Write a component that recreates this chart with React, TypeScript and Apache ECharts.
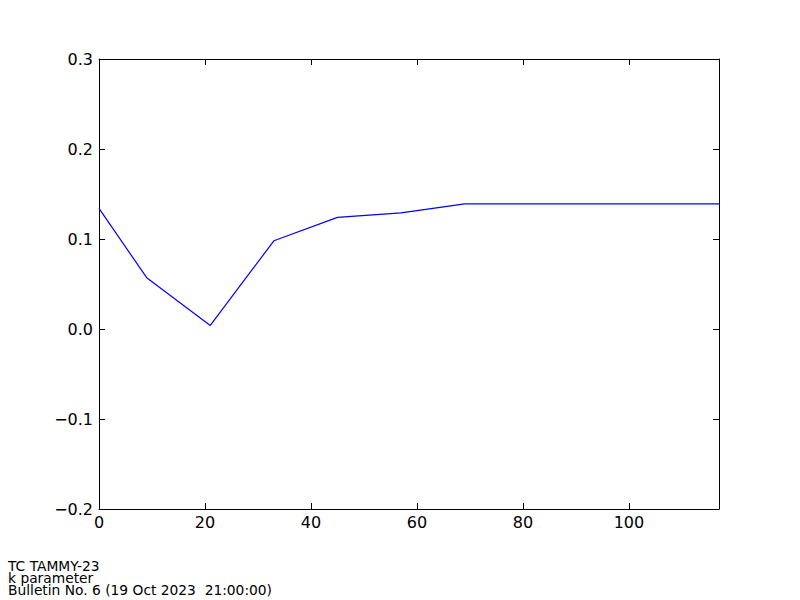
import React, { useEffect, useRef } from "react";
import * as echarts from "echarts";

const hours = [0, 9, 21, 33, 45, 57, 69, 81, 93, 105, 117];
const kValues = [0.134, 0.057, 0.004, 0.098, 0.124, 0.129, 0.139, 0.139, 0.139, 0.139, 0.139];
const footerLines = ["TC TAMMY-23", "k parameter", "Bulletin No. 6 (19 Oct 2023  21:00:00)"];

const FONT = "DejaVu Sans";

export default function App() {
  const ref = useRef<HTMLDivElement>(null);
  useEffect(() => {
    if (!ref.current) return;
    const chart = echarts.init(ref.current, null, { renderer: "svg" });
    const fmt = (v: number) => {
      const s = Math.abs(v).toFixed(1);
      return v < -1e-9 ? "\u2212" + s : s;
    };
    const axisLine = { show: true, onZero: false, lineStyle: { color: "#000", width: 1 } };
    const tick = { show: true, inside: true, length: 6, lineStyle: { color: "#000", width: 1 } };
    chart.setOption({
      animation: false,
      backgroundColor: "#fff",
      grid: { left: 99, right: 81, top: 59, bottom: 91, containLabel: false },
      xAxis: [
        {
          type: "value", min: 0, max: 117, interval: 20, position: "bottom",
          axisLine, axisTick: tick, splitLine: { show: false },
          axisLabel: { color: "#000", fontFamily: FONT, fontSize: 16, margin: 5, showMaxLabel: false },
        },
        {
          type: "value", min: 0, max: 117, interval: 20, position: "top",
          axisLine, axisTick: tick, splitLine: { show: false }, axisLabel: { show: false },
        },
      ],
      yAxis: [
        {
          type: "value", min: -0.2, max: 0.3, interval: 0.1, position: "left",
          axisLine, axisTick: tick, splitLine: { show: false },
          axisLabel: { color: "#000", fontFamily: FONT, fontSize: 16, margin: 6, formatter: fmt },
        },
        {
          type: "value", min: -0.2, max: 0.3, interval: 0.1, position: "right",
          axisLine, axisTick: tick, splitLine: { show: false }, axisLabel: { show: false },
        },
      ],
      series: [
        {
          type: "line",
          data: hours.map((h, i) => [h, kValues[i]]),
          showSymbol: false,
          lineStyle: { color: "#0000ff", width: 1.2 },
          itemStyle: { color: "#0000ff" },
        },
      ],
      graphic: [
        {
          type: "text",
          left: 8,
          top: 559,
          style: { text: footerLines.join("\n"), fill: "#000", fontFamily: FONT, fontSize: 13.8, lineHeight: 12 },
        },
      ],
    });
    return () => chart.dispose();
  }, []);
  return <div ref={ref} style={{ width: 800, height: 600, position: "absolute", left: 0, top: 0 }} />;
}
